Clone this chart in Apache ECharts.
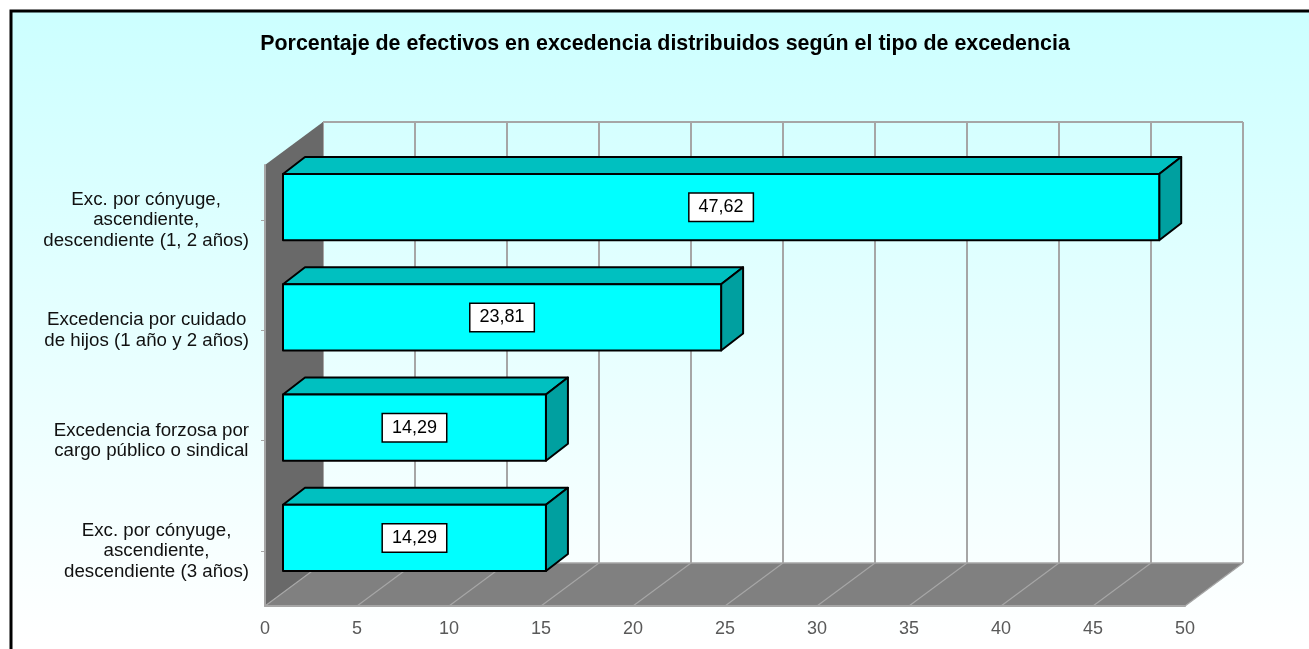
<!DOCTYPE html>
<html>
<head>
<meta charset="utf-8">
<script src="https://cdn.jsdelivr.net/npm/echarts@6/dist/echarts.min.js"></script>
<style>
  html, body { margin: 0; padding: 0; background: #fff; }
  #chart { width: 1309px; height: 649px; }
</style>
</head>
<body>
<div id="chart"></div>
<script>
const titleText = "Porcentaje de efectivos en excedencia distribuidos según el tipo de excedencia"
const categories = [
  "Exc. por cónyuge,\nascendiente,\ndescendiente (1, 2 años)",
  "Excedencia por cuidado\nde hijos (1 año y 2 años)",
  "Excedencia forzosa por\ncargo público o sindical",
  "Exc. por cónyuge,\nascendiente,\ndescendiente (3 años)"
]
const values = [47.62, 23.81, 14.29, 14.29]
const xTicks = [0, 5, 10, 15, 20, 25, 30, 35, 40, 45, 50]

// fake 3d: pixel offsets of the back wall and of the bars
const WALL = [58, -43]
const BAR_SHIFT = [18, -13]
const BAR_DEPTH = [22, -17]
const FONT = '"Liberation Sans", Arial, sans-serif'

const chart = echarts.init(document.getElementById("chart"))

const fmt = v => v.toFixed(2).replace(".", ",")

function renderFrame(params, api) {
  const cs = params.coordSys
  const x0 = cs.x, y0 = cs.y, x1 = cs.x + cs.width, y1 = cs.y + cs.height
  const [dx, dy] = WALL
  const kids = []
  // back wall grid
  xTicks.forEach(t => {
    const x = api.coord([t, 0])[0]
    kids.push({ type: "line", shape: { x1: x + dx, y1: y0 + dy, x2: x + dx, y2: y1 + dy },
      style: { stroke: "#a6a6a6", lineWidth: 2 } })
  })
  kids.push({ type: "line", shape: { x1: x0 + dx, y1: y0 + dy, x2: x1 + dx, y2: y0 + dy },
    style: { stroke: "#a6a6a6", lineWidth: 2 } })
  // left wall
  kids.push({ type: "polygon", shape: { points: [[x0, y0], [x0 + dx, y0 + dy], [x0 + dx, y1 + dy], [x0, y1]] },
    style: { fill: "#696969" } })
  // floor
  kids.push({ type: "polygon", shape: { points: [[x0, y1], [x1, y1], [x1 + dx, y1 + dy], [x0 + dx, y1 + dy]] },
    style: { fill: "#808080" } })
  kids.push({ type: "line", shape: { x1: x0 + dx, y1: y1 + dy, x2: x1 + dx, y2: y1 + dy },
    style: { stroke: "#a6a6a6", lineWidth: 1.5 } })
  xTicks.forEach(t => {
    const x = api.coord([t, 0])[0]
    kids.push({ type: "line", shape: { x1: x, y1: y1, x2: x + dx, y2: y1 + dy },
      style: { stroke: "#a6a6a6", lineWidth: 1.2 } })
  })
  return { type: "group", children: kids }
}

function renderBar(params, api) {
  const val = api.value(0), cat = api.value(1)
  const start = api.coord([0, cat])
  const end = api.coord([val, cat])
  const h = api.size([0, 1])[1] * 0.6
  const xl = start[0] + BAR_SHIFT[0], xr = end[0] + BAR_SHIFT[0]
  const yc = start[1] + BAR_SHIFT[1]
  const yt = yc - h / 2, yb = yc + h / 2
  const [dx, dy] = BAR_DEPTH
  const edge = { stroke: "#000", lineWidth: 2, lineJoin: "round" }
  return {
    type: "group",
    children: [
      { type: "polygon", shape: { points: [[xl, yt], [xl + dx, yt + dy], [xr + dx, yt + dy], [xr, yt]] },
        style: { fill: "#00c0c0", ...edge } },
      { type: "polygon", shape: { points: [[xr, yt], [xr + dx, yt + dy], [xr + dx, yb + dy], [xr, yb]] },
        style: { fill: "#00a0a0", ...edge } },
      { type: "rect", shape: { x: xl, y: yt, width: xr - xl, height: h },
        style: { fill: "#00ffff", ...edge } },
      { type: "text", x: (xl + xr) / 2, y: yc,
        style: { text: fmt(val), align: "center", verticalAlign: "middle",
          fontSize: 18, fontFamily: FONT, fill: "#000",
          backgroundColor: "#fff", borderColor: "#000", borderWidth: 1.5, padding: [5, 9, 4, 9] } }
    ]
  }
}

chart.setOption({
  backgroundColor: "#fff",
  animation: false,
  title: {
    text: titleText,
    left: 665, top: 34, padding: 0, textAlign: "center",
    textStyle: { fontFamily: FONT, fontSize: 21.4, fontWeight: "bold", color: "#000" }
  },
  graphic: [{
    type: "rect", z: -10,
    shape: { x: 11, y: 11, width: 1400, height: 700 },
    style: {
      fill: new echarts.graphic.LinearGradient(0, 0, 0, 1, [
        { offset: 0, color: "#ccffff" },
        { offset: 0.9, color: "#ffffff" }
      ]),
      stroke: "#000", lineWidth: 3
    }
  }],
  grid: { left: 265, right: 124, top: 165, bottom: 43, outerBoundsMode: "none" },
  xAxis: {
    type: "value", min: 0, max: 50, interval: 5, z: 3,
    axisLine: { show: true, lineStyle: { color: "#a6a6a6", width: 2 } },
    axisTick: { show: false },
    splitLine: { show: false },
    axisLabel: { color: "#595959", fontSize: 18, fontFamily: FONT, margin: 14 }
  },
  yAxis: {
    type: "category", data: categories, inverse: true, z: 3,
    axisLine: { show: true, lineStyle: { color: "#a6a6a6", width: 2 } },
    axisTick: { show: true, alignWithLabel: true, length: 4, lineStyle: { color: "#a6a6a6" } },
    splitLine: { show: false },
    axisLabel: {
      margin: 16, align: "right",
      formatter: v => "{c|" + v + "}",
      rich: { c: { align: "center", fontSize: 18.7, lineHeight: 20.5, color: "#111", fontFamily: FONT } }
    }
  },
  series: [
    { type: "custom", z: 1, renderItem: renderFrame, data: [[0, 0]], silent: true },
    { type: "custom", z: 2, renderItem: renderBar, data: values.map((v, i) => [v, i]),
      encode: { x: 0, y: 1 } }
  ]
})
</script>
</body>
</html>
